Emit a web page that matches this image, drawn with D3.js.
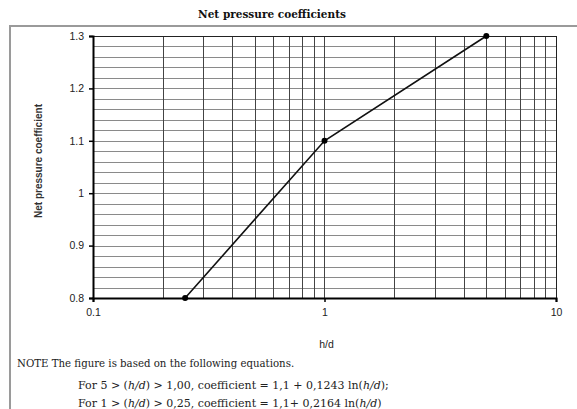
<!DOCTYPE html>
<html>
<head>
<meta charset="utf-8">
<title>Net pressure coefficients</title>
<style>
  body { margin: 0; background: #fff; }
  .tick text { font-family: "Liberation Sans", Arial, sans-serif; }
</style>
</head>
<body>
<svg width="577" height="409"></svg>
<script src="https://cdn.jsdelivr.net/npm/d3@7"></script>
<script>
  // data
  var hd = [0.25, 1, 5];
  var coef = [0.8, 1.1, 1.3];
  var xTicks = [0.1, 1, 10];
  var yTicks = [0.8, 0.9, 1, 1.1, 1.2, 1.3];
  var noteLines = [
    "NOTE The figure is based on the following equations.",
    "For 5 > (h/d) > 1,00, coefficient = 1,1 + 0,1243 ln(h/d);",
    "For 1 > (h/d) > 0,25, coefficient = 1,1+ 0,2164 ln(h/d)"
  ];

  var svg = d3.select("svg"),
    margin = { top: 36, right: 21, bottom: 111, left: 93 },
    width = +svg.attr("width") - margin.left - margin.right,
    height = +svg.attr("height") - margin.top - margin.bottom,
    g = svg.append("g").attr("transform", "translate(" + margin.left + "," + margin.top + ")");

  var x = d3.scaleLog().domain([0.1, 10]).range([0, width]);
  var y = d3.scaleLinear().domain([0.8, 1.3]).range([height, 0]);

  var serif = "'DejaVu Serif', 'Liberation Serif', serif";
  var sans = "'Liberation Sans', Arial, sans-serif";

  // outer frame (left + top, runs off the right/bottom)
  svg.append("path")
    .attr("d", "M10,420 L10,26 L590,26")
    .attr("fill", "none")
    .attr("stroke", "#9a9a9a")
    .attr("stroke-width", 2);

  // title
  svg.append("text")
    .attr("x", 272)
    .attr("y", 18)
    .attr("text-anchor", "middle")
    .attr("font-family", serif)
    .attr("font-weight", "bold")
    .attr("font-size", 10.5)
    .attr("fill", "#111")
    .text("Net pressure coefficients");

  // horizontal grid every 0.02
  var hGrid = d3.range(0, 26).map(function (i) { return 0.8 + i * 0.02; });
  g.append("g")
    .selectAll("line")
    .data(hGrid)
    .enter().append("line")
    .attr("x1", 0)
    .attr("x2", width)
    .attr("y1", function (d) { return Math.round(y(d)) + 0.5; })
    .attr("y2", function (d) { return Math.round(y(d)) + 0.5; })
    .attr("stroke", "#8a8a8a")
    .attr("stroke-width", 1);

  // vertical grid at 2..9 of each decade
  var vGrid = x.ticks().filter(function (d) { return d > 0.1 && d < 10; });
  g.append("g")
    .selectAll("line")
    .data(vGrid)
    .enter().append("line")
    .attr("x1", function (d) { return Math.round(x(d)) + 0.5; })
    .attr("x2", function (d) { return Math.round(x(d)) + 0.5; })
    .attr("y1", 0)
    .attr("y2", height)
    .attr("stroke", "#444")
    .attr("stroke-width", 1);

  // plot border
  g.append("rect")
    .attr("x", 0.5)
    .attr("y", 0.5)
    .attr("width", width)
    .attr("height", height)
    .attr("fill", "none")
    .attr("stroke", "#222")
    .attr("stroke-width", 1);

  // axes
  var xAxis = g.append("g")
    .attr("transform", "translate(0," + height + ")")
    .call(d3.axisBottom(x).tickValues(xTicks).tickFormat(d3.format("")).tickSize(4).tickPadding(7));
  var yAxis = g.append("g")
    .call(d3.axisLeft(y).tickValues(yTicks).tickFormat(d3.format("")).tickSize(4).tickPadding(5));

  [xAxis, yAxis].forEach(function (a) {
    a.select(".domain").attr("stroke", "#000").attr("stroke-width", 2);
    a.selectAll(".tick line").attr("stroke", "#000").attr("stroke-width", 1.5);
    a.selectAll(".tick text").attr("font-size", 10.5).attr("fill", "#222");
  });

  // axis labels
  g.append("text")
    .attr("x", x(1) + 2)
    .attr("y", height + 50)
    .attr("text-anchor", "middle")
    .attr("font-family", sans)
    .attr("font-size", 10.5)
    .attr("fill", "#222")
    .text("h/d");

  svg.append("text")
    .attr("transform", "translate(42," + 161 + ") rotate(-90)")
    .attr("text-anchor", "middle")
    .attr("font-family", sans)
    .attr("font-weight", "bold")
    .attr("font-size", 10)
    .attr("fill", "#333")
    .text("Net pressure coefficient");

  // line + markers
  var pts = hd.map(function (d, i) { return [d, coef[i]]; });
  g.append("path")
    .datum(pts)
    .attr("fill", "none")
    .attr("stroke", "#111")
    .attr("stroke-width", 1.6)
    .attr("d", d3.line().x(function (d) { return x(d[0]); }).y(function (d) { return y(d[1]); }));

  g.selectAll("circle")
    .data(pts)
    .enter().append("circle")
    .attr("cx", function (d) { return x(d[0]); })
    .attr("cy", function (d) { return y(d[1]); })
    .attr("r", 3)
    .attr("fill", "#000");

  // note text
  var noteX = [17, 78, 78];
  var noteY = [367, 389, 407];
  var noteSize = [10.2, 11, 11];
  noteLines.forEach(function (t, i) {
    var txt = svg.append("text")
      .attr("x", noteX[i])
      .attr("y", noteY[i])
      .attr("font-family", serif)
      .attr("font-size", noteSize[i])
      .attr("fill", "#222");
    // italicise h/d
    t.split(/(h\/d)/).forEach(function (part) {
      if (!part) return;
      txt.append("tspan")
        .attr("font-style", part === "h/d" ? "italic" : "normal")
        .text(part);
    });
  });
</script>
</body>
</html>
